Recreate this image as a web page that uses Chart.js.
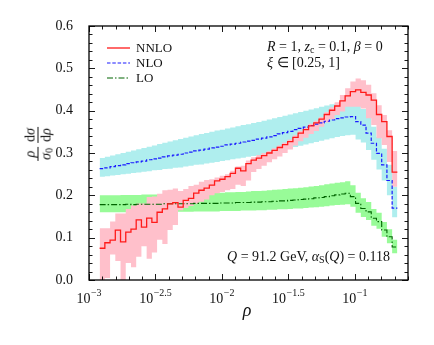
<!DOCTYPE html>
<html>
<head>
<meta charset="utf-8">
<script src="https://cdn.jsdelivr.net/npm/chart.js@4.4.1/dist/chart.umd.min.js"></script>
<style>
body { margin: 0; background: #fff; }
#wrap { position: relative; width: 434px; height: 345px; font-family: "Liberation Serif", serif; color: #111; }
.note { position: absolute; white-space: nowrap; font-size: 14px; line-height: 14px; }
.note sub { font-size: 10px; vertical-align: -2px; line-height: 0; }
#xlab { position: absolute; left: 247px; top: 301px; transform: translateX(-50%); font-size: 18px; line-height: 18px; font-style: italic; }
#ylab { position: absolute; left: 38px; top: 144px; transform: translate(-50%, -50%) rotate(-90deg); display: flex; align-items: center; gap: 4px; font-size: 14px; white-space: nowrap; }
.fr { display: inline-flex; flex-direction: column; align-items: stretch; line-height: 15px; }
.fr > span { display: block; text-align: center; padding: 0 1px; }
.fr > span:first-child { border-bottom: 0.8px solid #111; }
.fr sub { font-size: 10px; vertical-align: -2px; line-height: 0; }
</style>
</head>
<body>
<div id="wrap">
  <canvas id="chart" width="434" height="345"></canvas>
  <div class="note" style="left:267px; top:40px;"><i>R</i> = 1, <i>z</i><sub>c</sub> = 0.1, <i>β</i> = 0</div>
  <div class="note" style="left:267px; top:56px;"><i>ξ</i> ∈ [0.25, 1]</div>
  <div class="note" style="right:44px; top:250px;"><i>Q</i> = 91.2 GeV, <i>α</i><sub>S</sub>(<i>Q</i>) = 0.118</div>
  <div id="xlab">ρ</div>
  <div id="ylab">
    <span class="fr"><span><i>ρ</i></span><span><i>σ</i><sub>0</sub></span></span>
    <span class="fr"><span>d<i>σ</i></span><span>d<i>ρ</i></span></span>
  </div>
</div>
<script>
// log10(rho) range of the histogram bins
const binLo = -2.92;
const binHi = -0.68;

const xTickVals = [-3, -2.5, -2, -1.5, -1];
const xTickExps = ['\u22123', '\u22122.5', '\u22122', '\u22121.5', '\u22121'];
const yTickVals = [0, 0.1, 0.2, 0.3, 0.4, 0.5, 0.6];

const legendNames = ['NNLO', 'NLO', 'LO'];

// NNLO
const nnlo = [0.075, 0.088, 0.094, 0.118, 0.090, 0.113, 0.120, 0.142, 0.125, 0.146,
              0.136, 0.160, 0.168, 0.180, 0.183, 0.172, 0.188, 0.193, 0.205, 0.212,
              0.217, 0.224, 0.234, 0.238, 0.244, 0.252, 0.264, 0.258, 0.275, 0.283,
              0.288, 0.294, 0.300, 0.306, 0.313, 0.320, 0.327, 0.337, 0.347, 0.355,
              0.364, 0.371, 0.380, 0.391, 0.401, 0.411, 0.423, 0.435, 0.445, 0.449,
              0.443, 0.437, 0.425, 0.391, 0.374, 0.339, 0.255];
const nnloHi = [0.122, 0.122, 0.138, 0.157, 0.157, 0.168, 0.176, 0.181, 0.181, 0.196,
                0.197, 0.204, 0.212, 0.213, 0.216, 0.210, 0.215, 0.222, 0.225, 0.232,
                0.236, 0.238, 0.242, 0.246, 0.250, 0.258, 0.268, 0.270, 0.282, 0.290,
                0.295, 0.300, 0.305, 0.311, 0.318, 0.325, 0.332, 0.342, 0.352, 0.360,
                0.369, 0.376, 0.385, 0.397, 0.408, 0.420, 0.437, 0.453, 0.469, 0.476,
                0.472, 0.461, 0.441, 0.413, 0.390, 0.354, 0.305];
const nnloLo = [0.000, 0.005, 0.060, 0.045, 0.000, 0.040, 0.030, 0.055, 0.080, 0.050,
                0.065, 0.095, 0.085, 0.118, 0.130, 0.165, 0.170, 0.175, 0.180, 0.185,
                0.190, 0.200, 0.205, 0.208, 0.212, 0.215, 0.225, 0.222, 0.235, 0.255,
                0.262, 0.270, 0.278, 0.285, 0.292, 0.300, 0.308, 0.318, 0.328, 0.336,
                0.345, 0.352, 0.362, 0.372, 0.380, 0.390, 0.398, 0.409, 0.409, 0.409,
                0.405, 0.382, 0.366, 0.335, 0.319, 0.279, 0.220];

// NLO
const nlo = [0.263, 0.265, 0.268, 0.270, 0.272, 0.275, 0.277, 0.279, 0.281, 0.284,
             0.286, 0.288, 0.291, 0.293, 0.295, 0.297, 0.300, 0.302, 0.305, 0.307,
             0.309, 0.312, 0.314, 0.316, 0.319, 0.321, 0.323, 0.326, 0.328, 0.330,
             0.333, 0.335, 0.338, 0.341, 0.345, 0.348, 0.351, 0.355, 0.358, 0.361,
             0.365, 0.368, 0.371, 0.375, 0.378, 0.381, 0.383, 0.385, 0.386, 0.374,
             0.366, 0.347, 0.323, 0.299, 0.272, 0.235, 0.170];
const nloHi = [0.288, 0.291, 0.294, 0.297, 0.300, 0.303, 0.306, 0.309, 0.312, 0.315,
               0.318, 0.321, 0.324, 0.327, 0.330, 0.333, 0.336, 0.339, 0.342, 0.345,
               0.347, 0.350, 0.353, 0.355, 0.358, 0.360, 0.363, 0.366, 0.368, 0.371,
               0.373, 0.376, 0.379, 0.382, 0.385, 0.388, 0.391, 0.394, 0.397, 0.400,
               0.403, 0.406, 0.409, 0.412, 0.415, 0.418, 0.420, 0.422, 0.423, 0.412,
               0.404, 0.386, 0.362, 0.338, 0.310, 0.272, 0.220];
const nloLo = [0.244, 0.245, 0.247, 0.248, 0.250, 0.251, 0.253, 0.254, 0.256, 0.257,
               0.259, 0.260, 0.262, 0.263, 0.265, 0.266, 0.268, 0.270, 0.272, 0.273,
               0.275, 0.277, 0.279, 0.281, 0.283, 0.285, 0.287, 0.289, 0.291, 0.293,
               0.295, 0.297, 0.300, 0.302, 0.305, 0.308, 0.311, 0.314, 0.317, 0.320,
               0.323, 0.326, 0.329, 0.332, 0.335, 0.338, 0.340, 0.342, 0.343, 0.332,
               0.325, 0.307, 0.284, 0.261, 0.235, 0.200, 0.148];

// LO
const lo = [0.178, 0.178, 0.178, 0.178, 0.178, 0.179, 0.178, 0.179, 0.179, 0.179,
            0.179, 0.179, 0.180, 0.180, 0.180, 0.180, 0.180, 0.180, 0.181, 0.181,
            0.181, 0.181, 0.181, 0.182, 0.182, 0.182, 0.183, 0.183, 0.183, 0.184,
            0.184, 0.185, 0.185, 0.186, 0.187, 0.187, 0.188, 0.189, 0.190, 0.191,
            0.192, 0.194, 0.195, 0.197, 0.199, 0.201, 0.203, 0.205, 0.197, 0.181,
            0.169, 0.161, 0.146, 0.138, 0.118, 0.102, 0.078];
const loHi = [0.200, 0.200, 0.200, 0.200, 0.201, 0.201, 0.201, 0.201, 0.202, 0.202,
              0.202, 0.202, 0.202, 0.203, 0.203, 0.203, 0.204, 0.204, 0.204, 0.205,
              0.205, 0.205, 0.206, 0.206, 0.207, 0.207, 0.208, 0.208, 0.209, 0.210,
              0.210, 0.211, 0.212, 0.213, 0.214, 0.215, 0.216, 0.217, 0.218, 0.219,
              0.221, 0.222, 0.224, 0.226, 0.228, 0.230, 0.231, 0.233, 0.224, 0.206,
              0.193, 0.184, 0.168, 0.159, 0.137, 0.120, 0.095];
const loLo = [0.160, 0.160, 0.160, 0.160, 0.160, 0.160, 0.160, 0.160, 0.160, 0.160,
              0.161, 0.161, 0.161, 0.161, 0.161, 0.161, 0.161, 0.161, 0.162, 0.162,
              0.162, 0.162, 0.162, 0.163, 0.163, 0.163, 0.163, 0.164, 0.164, 0.164,
              0.165, 0.165, 0.166, 0.166, 0.167, 0.167, 0.168, 0.169, 0.169, 0.170,
              0.171, 0.172, 0.173, 0.174, 0.176, 0.177, 0.178, 0.179, 0.173, 0.159,
              0.149, 0.142, 0.128, 0.121, 0.102, 0.087, 0.063];

const nBins = nnlo.length;
const edge = i => binLo + i * (binHi - binLo) / nBins;

// histogram as step points: left edges + closing right edge
function steps(vals) {
    const pts = vals.map((v, i) => ({x: edge(i), y: v}));
    pts.push({x: edge(vals.length), y: vals[vals.length - 1]});
    return pts;
}

function band(vals, color, fill, order) {
    return {
        data: steps(vals),
        stepped: true,
        borderWidth: 0,
        borderColor: 'rgba(0,0,0,0)',
        backgroundColor: color,
        pointRadius: 0,
        fill: fill,
        order: order
    };
}

function curve(vals, color, width, dash, order) {
    return {
        data: steps(vals),
        stepped: true,
        borderWidth: width,
        borderColor: color,
        borderDash: dash,
        pointRadius: 0,
        fill: false,
        order: order
    };
}

const lineStyles = [
    {color: '#ff1a1a', width: 1.3, dash: []},
    {color: '#1a1aff', width: 1.2, dash: [3.5, 1.8]},
    {color: '#006400', width: 1.1, dash: [6, 2, 1.5, 2]}
];

const datasets = [
    band(loHi, '#98fb98', '+1', 10),
    band(loLo, '#98fb98', false, 10),
    band(nloHi, '#afeeee', '+1', 9),
    band(nloLo, '#afeeee', false, 9),
    band(nnloHi, '#ffc0cb', '+1', 8),
    band(nnloLo, '#ffc0cb', false, 8),
    curve(lo, lineStyles[2].color, lineStyles[2].width, lineStyles[2].dash, 3),
    curve(nlo, lineStyles[1].color, lineStyles[1].width, lineStyles[1].dash, 2),
    curve(nnlo, lineStyles[0].color, lineStyles[0].width, lineStyles[0].dash, 1)
];

// frame, inward ticks on all sides, 10^x labels and legend
const decorations = {
    id: 'decorations',
    afterDatasetsDraw(chart) {
        const ctx = chart.ctx;
        const a = chart.chartArea;
        const x = chart.scales.x;
        const y = chart.scales.y;

        ctx.save();
        ctx.strokeStyle = '#000';
        ctx.lineWidth = 0.9;
        ctx.beginPath();
        for (let k = 0; k <= 24; k++) {
            const px = Math.round(x.getPixelForValue(-3 + k * 0.1)) + 0.5;
            const len = k % 5 === 0 ? 6 : 3.5;
            ctx.moveTo(px, a.bottom); ctx.lineTo(px, a.bottom - len);
            ctx.moveTo(px, a.top); ctx.lineTo(px, a.top + len);
        }
        for (let k = 0; k <= 30; k++) {
            const py = Math.round(y.getPixelForValue(k * 0.02)) + 0.5;
            const len = k % 5 === 0 ? 6 : 3.5;
            ctx.moveTo(a.left, py); ctx.lineTo(a.left + len, py);
            ctx.moveTo(a.right, py); ctx.lineTo(a.right - len, py);
        }
        ctx.stroke();

        ctx.lineWidth = 1.3;
        ctx.strokeRect(a.left, a.top, a.right - a.left, a.bottom - a.top);

        // x tick labels: 10 with raised exponent
        ctx.fillStyle = '#111';
        ctx.textBaseline = 'alphabetic';
        ctx.textAlign = 'left';
        xTickVals.forEach((v, i) => {
            ctx.font = '14px "Liberation Serif"';
            const wBase = ctx.measureText('10').width;
            ctx.font = '10px "Liberation Serif"';
            const wExp = ctx.measureText(xTickExps[i]).width;
            const x0 = x.getPixelForValue(v) - (wBase + wExp + 0.5) / 2;
            ctx.font = '14px "Liberation Serif"';
            ctx.fillText('10', x0, 303);
            ctx.font = '10px "Liberation Serif"';
            ctx.fillText(xTickExps[i], x0 + wBase + 0.5, 296);
        });

        // legend
        ctx.font = '13px "Liberation Serif"';
        ctx.textBaseline = 'middle';
        legendNames.forEach((name, i) => {
            const ly = 48 + i * 15;
            const s = lineStyles[i];
            ctx.strokeStyle = s.color;
            ctx.lineWidth = s.width;
            ctx.setLineDash(s.dash);
            ctx.beginPath();
            ctx.moveTo(107, ly);
            ctx.lineTo(130, ly);
            ctx.stroke();
            ctx.setLineDash([]);
            ctx.fillText(name, 136, ly + 1);
        });
        ctx.restore();
    }
};

const config = {
    type: 'line',
    data: {datasets: datasets},
    options: {
        responsive: false,
        animation: false,
        events: [],
        layout: {padding: {left: 0, right: 26, top: 26, bottom: 0}},
        plugins: {
            legend: {display: false},
            tooltip: {enabled: false}
        },
        scales: {
            x: {
                type: 'linear',
                min: -3,
                max: -0.6,
                grid: {display: false},
                border: {display: false},
                ticks: {display: false},
                afterBuildTicks: scale => { scale.ticks = xTickVals.map(v => ({value: v})); },
                afterFit: scale => { scale.height = 65; }
            },
            y: {
                min: 0,
                max: 0.6,
                grid: {display: false},
                border: {display: false},
                ticks: {
                    padding: 8,
                    color: '#111',
                    font: {family: 'Liberation Serif', size: 14},
                    callback: v => v.toFixed(1)
                },
                afterBuildTicks: scale => { scale.ticks = yTickVals.map(v => ({value: v})); },
                afterFit: scale => { scale.width = 89; }
            }
        }
    },
    plugins: [decorations]
};

const chart = new Chart(document.getElementById('chart'), config);
</script>
</body>
</html>
